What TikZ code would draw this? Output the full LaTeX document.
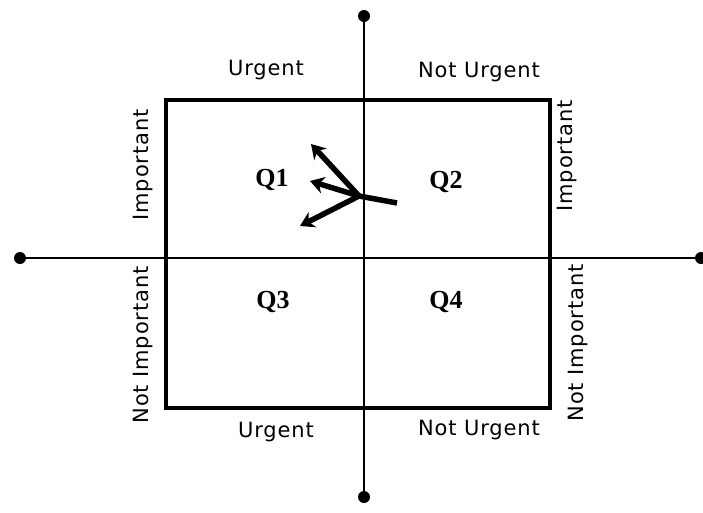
\documentclass[tikz,border=0pt]{standalone}
\usepackage{fontspec}
\setmainfont{DejaVu Sans}[LetterSpace=4]
\newfontfamily\qfont{Liberation Serif}
\usetikzlibrary{arrows.meta, positioning}

\begin{document}
\begin{tikzpicture}[
    x=1pt, y=-1pt,
    dot/.style={circle, fill=black, inner sep=0pt, minimum size=12pt},
    axis/.style={line width=1.6pt},
    quad/.style={font=\qfont\fontsize{26}{26}\selectfont\bfseries},
    lbl/.style={font=\fontsize{21}{21}\selectfont, inner sep=0pt},
    vlbl/.style={lbl, rotate=90},
    move/.style={line width=5.5pt, -{Stealth[length=14pt, width=17pt]}}
]
\useasboundingbox (0,0) rectangle (703,512);

% Axes
\node[dot] (top) at (364,16) {};
\node[dot] (bottom) at (364,497) {};
\node[dot] (left) at (20,258) {};
\node[dot] (right) at (701,258) {};
\draw[axis] (top) -- (bottom);
\draw[axis] (left) -- (right);

% Matrix frame
\draw[line width=3.4pt] (166,100) rectangle (550,408);

% Column labels
\node[lbl] (urg1) at (266,70) {Urgent};
\node[lbl] (nurg1) at (479,72) {Not Urgent};
\node[lbl] (urg2) at (276,432) {Urgent};
\node[lbl] (nurg2) at (479,430) {Not Urgent};

% Row labels
\node[vlbl] (imp1) at (143,165) {Important};
\node[vlbl] (imp2) at (567,156) {Important};
\node[vlbl] (nimp1) at (143,345) {Not Important};
\node[vlbl] (nimp2) at (578,343) {Not Important};

% Quadrants
\node[quad] (q1) at (272,180) {Q1};
\node[quad] (q2) at (446,182) {Q2};
\node[quad] (q3) at (273,302) {Q3};
\node[quad] (q4) at (446,302) {Q4};

% Moves into Q1
\coordinate (hub) at (359,196);
\coordinate (tail) at (397,203);
\coordinate (tipa) at (311,144);
\coordinate (tipb) at (310,181);
\coordinate (tipc) at (300,226);
\draw[line width=5.5pt] (tail) -- (hub);
\draw[move] (hub) -- (tipa);
\draw[move] (hub) -- (tipb);
\draw[move] (hub) -- (tipc);

\end{tikzpicture}
\end{document}
